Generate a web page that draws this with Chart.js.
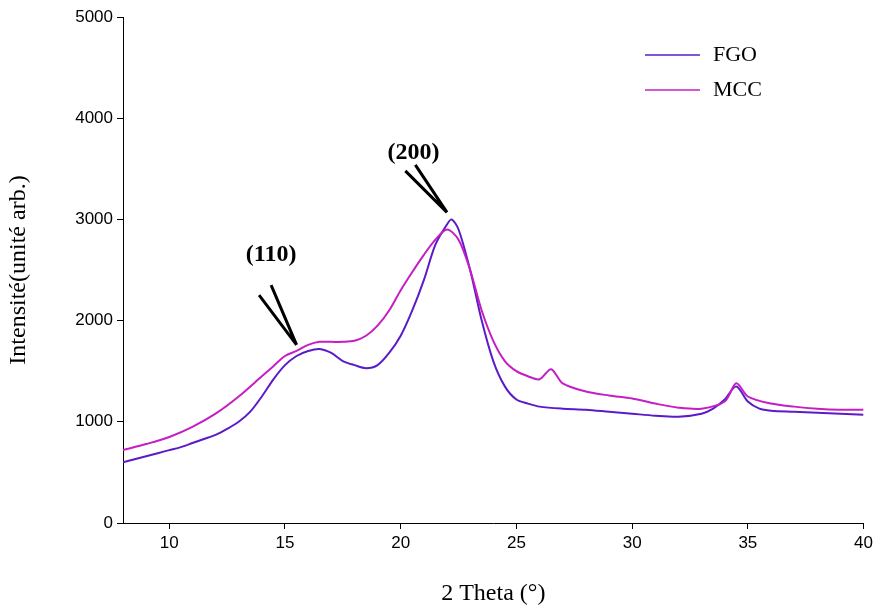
<!DOCTYPE html>
<html lang="en">
<head>
<meta charset="UTF-8">
<title>XRD FGO MCC</title>
<script src="https://cdn.jsdelivr.net/npm/chart.js"></script>
<style>
    body { margin: 0; background: #fff; }
    #wrap { width: 877px; height: 612px; }
</style>
</head>
<body>
<div id="wrap"><canvas id="chart"></canvas></div>
<script>
const fgoX = [8, 8.5, 9, 9.5, 10, 10.5, 11, 11.5, 12, 12.5, 13, 13.5, 14, 14.5, 15, 15.5, 16, 16.5, 17, 17.5, 18, 18.5, 19, 19.5, 20, 20.5, 21, 21.5, 22, 22.2, 22.5, 23, 23.5, 24, 24.5, 25, 25.5, 26, 27, 28, 29, 30, 31, 32, 33, 33.5, 34, 34.5, 35, 35.5, 36, 37, 38, 39, 40];
const fgoY = [600, 630, 660, 690, 720, 750, 790, 830, 870, 930, 1000, 1100, 1250, 1420, 1560, 1650, 1700, 1720, 1680, 1600, 1560, 1530, 1560, 1680, 1850, 2100, 2400, 2750, 2950, 3000, 2900, 2500, 2000, 1600, 1350, 1220, 1180, 1150, 1130, 1120, 1100, 1080, 1060, 1050, 1080, 1130, 1220, 1350, 1200, 1130, 1110, 1100, 1090, 1080, 1070];
const mccX = [8, 9, 10, 11, 12, 13, 14, 14.5, 15, 15.5, 16, 16.5, 17, 17.5, 18, 18.5, 19, 19.5, 20, 20.5, 21, 21.5, 22, 22.5, 23, 23.5, 24, 24.5, 25, 25.5, 26, 26.5, 27, 28, 29, 30, 31, 32, 33, 34, 34.5, 35, 36, 37, 38, 39, 40];
const mccY = [720, 780, 850, 950, 1080, 1250, 1450, 1550, 1650, 1700, 1760, 1790, 1790, 1790, 1800, 1850, 1950, 2100, 2300, 2480, 2650, 2800, 2900, 2800, 2500, 2100, 1800, 1600, 1500, 1450, 1420, 1520, 1380, 1300, 1260, 1230, 1180, 1140, 1130, 1200, 1380, 1250, 1180, 1150, 1130, 1120, 1120];
const xTicks = [10, 15, 20, 25, 30, 35, 40];
const yTicks = [0, 1000, 2000, 3000, 4000, 5000];
const seriesNames = ['FGO', 'MCC'];
const seriesColors = ['#5b1bc9', '#c41ec4'];

function pts(xs, ys) { return xs.map((x, i) => ({ x: x, y: ys[i] })); }

const extras = {
    id: 'extras',
    afterDraw(chart) {
        const ctx = chart.ctx, xs = chart.scales.x, ys = chart.scales.y;
        const px = v => xs.getPixelForValue(v), py = v => ys.getPixelForValue(v);
        ctx.save();
        // legend
        ctx.font = '22px "Liberation Serif"';
        ctx.textBaseline = 'middle';
        seriesNames.forEach((n, i) => {
            const y = 55 + i * 35;
            ctx.strokeStyle = seriesColors[i];
            ctx.lineWidth = 1.5;
            ctx.beginPath(); ctx.moveTo(645, y); ctx.lineTo(700, y); ctx.stroke();
            ctx.fillStyle = '#000';
            ctx.fillText(n, 713, y);
        });
        // peak labels
        ctx.font = 'bold 24px "Liberation Serif"';
        ctx.textAlign = 'center';
        ctx.fillText('(110)', px(14.4), py(2650));
        ctx.fillText('(200)', px(20.55), py(3660));
        // arrows (double line)
        ctx.strokeStyle = '#000';
        ctx.lineWidth = 3;
        function arrow(x1, y1, x2, y2, dx) {
            ctx.beginPath();
            ctx.moveTo(px(x1), py(y1)); ctx.lineTo(px(x2), py(y2));
            ctx.moveTo(px(x1) + dx[0], py(y1) + dx[1]); ctx.lineTo(px(x2), py(y2));
            ctx.stroke();
        }
        arrow(14.4, 2350, 15.5, 1760, [-12, 10]);
        arrow(20.2, 3480, 22.0, 3070, [10, -6]);
        ctx.restore();
    }
};

const tickFont = { family: 'Liberation Sans', size: 17 };

new Chart(document.getElementById('chart'), {
    type: 'scatter',
    data: {
        datasets: [
            { label: seriesNames[1], data: pts(mccX, mccY), borderColor: seriesColors[1], showLine: true, pointRadius: 0, borderWidth: 2, tension: 0.3 },
            { label: seriesNames[0], data: pts(fgoX, fgoY), borderColor: seriesColors[0], showLine: true, pointRadius: 0, borderWidth: 2, tension: 0.3 }
        ]
    },
    options: {
        responsive: true,
        maintainAspectRatio: false,
        animation: false,
        layout: { padding: { top: 17, right: 8 } },
        plugins: { legend: { display: false }, tooltip: { enabled: false } },
        scales: {
            x: {
                type: 'linear', min: 8, max: 40,
                afterBuildTicks: s => { s.ticks = xTicks.map(v => ({ value: v })); },
                grid: { drawOnChartArea: false, color: '#000', tickLength: 6 },
                border: { color: '#000', width: 1 },
                ticks: { color: '#000', font: tickFont, padding: 4, callback: v => String(v) },
                title: { display: true, text: '2 Theta (°)', color: '#000', font: { family: 'Liberation Serif', size: 24 }, padding: { top: 22 } },
                afterFit: s => { s.height = 89; }
            },
            y: {
                min: 0, max: 5000,
                afterBuildTicks: s => { s.ticks = yTicks.map(v => ({ value: v })); },
                grid: { drawOnChartArea: false, color: '#000', tickLength: 6 },
                border: { color: '#000', width: 1 },
                ticks: { color: '#000', font: tickFont, padding: 4, callback: v => String(v) },
                title: { display: true, text: 'Intensité(unité arb.)', color: '#000', font: { family: 'Liberation Serif', size: 24 } },
                afterFit: s => { s.width = 123; }
            }
        }
    },
    plugins: [extras]
});
</script>
</body>
</html>
